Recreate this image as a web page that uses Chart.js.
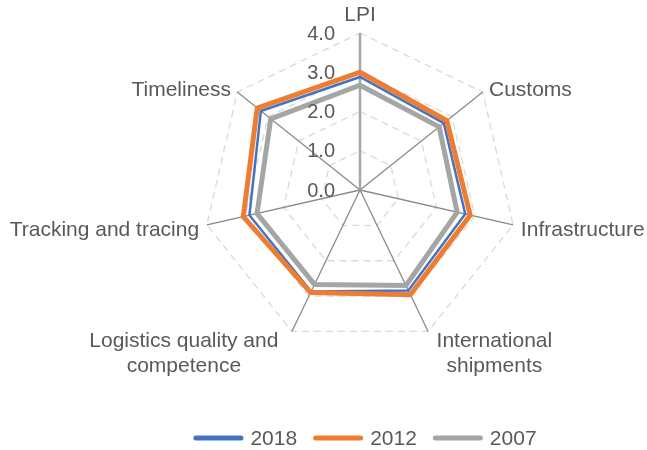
<!DOCTYPE html>
<html><head><meta charset="utf-8">
<script src="https://cdn.jsdelivr.net/npm/chart.js@4/dist/chart.umd.min.js"></script>
<style>html,body{margin:0;padding:0;background:#fff}#wrap{width:647px;height:450px}</style>
</head><body><div id="wrap"><canvas id="c" width="647" height="450"></canvas></div>
<script>
const categories = [['LPI'],['Customs'],['Infrastructure'],['International','shipments'],['Logistics quality and','competence'],['Tracking and tracing'],['Timeliness']];
const years = ['2018','2012','2007'];
const values2018 = [2.88,2.73,2.75,2.84,2.87,2.89,3.23];
const values2012 = [3.00,2.83,2.88,2.96,2.90,3.05,3.35];
const values2007 = [2.67,2.58,2.54,2.70,2.67,2.69,2.91];
const tickValues = [0,1,2,3,4];
const tickLabels = ['0.0','1.0','2.0','3.0','4.0'];

const TEXT = '#595959';
const FONT = '"Liberation Sans", Arial, sans-serif';

const customDraw = {
  id: 'customDraw',
  afterDraw(chart) {
    const ctx = chart.ctx, r = chart.scales.r;
    ctx.save();
    ctx.fillStyle = TEXT;
    // tick labels
    ctx.font = '20px ' + FONT;
    ctx.textAlign = 'right';
    ctx.textBaseline = 'middle';
    tickValues.forEach((v, i) => {
      const d = r.getDistanceFromCenterForValue(v);
      ctx.fillText(tickLabels[i], r.xCenter - 25, r.yCenter - d + 1);
    });
    // point labels
    ctx.font = '21px ' + FONT;
    ctx.textAlign = 'center';
    const n = categories.length;
    categories.forEach((lines, i) => {
      const p = r.getPointPosition(i, r.drawingArea + 8);
      const deg = i * 360 / n;
      const c = Math.cos(deg * Math.PI / 180);
      const lh = 25;
      const w = Math.max(...lines.map(l => ctx.measureText(l).width));
      let cx;
      if (deg === 0) cx = p.x;
      else if (deg < 180) cx = p.x + w / 2 + (c < -0.8 ? 5 : 0);
      else cx = p.x - w / 2 - (c < -0.8 ? 10 : 0);
      const y0 = deg === 0 ? p.y - 10 : p.y + 3;
      lines.forEach((l, k) => ctx.fillText(l, cx, y0 + k * lh));
    });
    // legend
    ctx.font = '21px ' + FONT;
    const items = chart.data.datasets.map(ds => ({label: ds.label, color: ds.borderColor, w: ctx.measureText(ds.label).width}));
    const lineW = 50, gapT = 7, gapI = 16;
    let total = items.reduce((s, it) => s + lineW + gapT + it.w, 0) + gapI * (items.length - 1);
    let x = 365 - total / 2;
    const y = 438;
    ctx.textAlign = 'left';
    items.forEach(it => {
      ctx.strokeStyle = it.color;
      ctx.lineWidth = 5;
      ctx.lineCap = 'round';
      ctx.beginPath();
      ctx.moveTo(x + 2.5, y);
      ctx.lineTo(x + lineW - 2.5, y);
      ctx.stroke();
      ctx.fillText(it.label, x + lineW + gapT, y + 1);
      x += lineW + gapT + it.w + gapI;
    });
    ctx.restore();
  }
};

new Chart(document.getElementById('c'), {
  type: 'radar',
  data: {
    labels: categories.map(l => l.join(' ')),
    datasets: [
      {label: years[0], data: values2018, borderColor: '#4472C4', backgroundColor: '#4472C4', borderWidth: 2.5, order: 3},
      {label: years[1], data: values2012, borderColor: '#ED7D31', backgroundColor: '#ED7D31', borderWidth: 5, order: 2},
      {label: years[2], data: values2007, borderColor: '#A5A5A5', backgroundColor: '#A5A5A5', borderWidth: 5, order: 1}
    ]
  },
  options: {
    responsive: false,
    animation: false,
    devicePixelRatio: 1,
    elements: {
      point: {radius: 0, hoverRadius: 0},
      line: {tension: 0, fill: false, borderJoinStyle: 'miter'}
    },
    plugins: {legend: {display: false}, tooltip: {enabled: false}},
    scales: {
      r: {
        min: 0, max: 4,
        ticks: {display: false, stepSize: 1},
        pointLabels: {display: false},
        grid: {color: '#d9d9d9', lineWidth: 1.3},
        border: {dash: [7, 5]},
        angleLines: {
          color: c => c.index === 0 ? '#a6a6a6' : '#8a8a8a',
          lineWidth: c => c.index === 0 ? 2.5 : 1.3
        },
        afterFit(scale) {
          scale.xCenter = 360;
          scale.yCenter = 190;
          scale.drawingArea = 157;
        }
      }
    }
  },
  plugins: [customDraw]
});
</script>
</body></html>
